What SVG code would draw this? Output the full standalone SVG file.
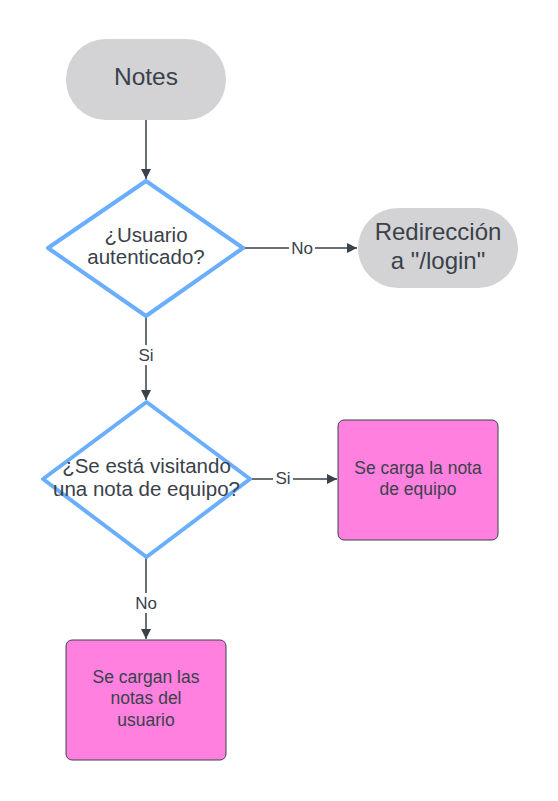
<svg xmlns="http://www.w3.org/2000/svg" width="558" height="801" viewBox="0 0 558 801">
<defs>
<marker id="arr" markerWidth="10" markerHeight="10" refX="10" refY="5" orient="auto" markerUnits="userSpaceOnUse" viewBox="0 0 10 10">
<path d="M0,0 L10,5 L0,10 Z" fill="#3a414a"/>
</marker>
<style>
.t{font-family:"Liberation Sans",Arial,sans-serif;fill:#3a414a;text-anchor:middle}
.pill{fill:#d3d3d5;stroke:none}
.dia{fill:#ffffff;stroke:#6aaeff;stroke-width:4;stroke-linejoin:round}
.box{fill:#ff80df;stroke:#3a414a;stroke-width:1}
.c{stroke:#3a414a;stroke-width:1.5;fill:none}
.lbl{font-family:"Liberation Sans",Arial,sans-serif;fill:#3a414a;text-anchor:middle;font-size:17px}
.lb{fill:#ffffff}
</style>
</defs>
<rect width="558" height="801" fill="#ffffff"/>
<g id="connectors">
<line class="c" x1="243" y1="248" x2="357" y2="248" marker-end="url(#arr)"/>
<line class="c" x1="146" y1="120" x2="146" y2="179" marker-end="url(#arr)"/>
<rect class="lb" x="289" y="238" width="26" height="20"/>
<text class="lbl" x="302" y="254">No</text>
<line class="c" x1="146" y1="316" x2="146" y2="400" marker-end="url(#arr)"/>
<rect class="lb" x="136" y="345" width="20" height="20"/>
<text class="lbl" x="146" y="361">Si</text>
<line class="c" x1="250" y1="479" x2="337" y2="479" marker-end="url(#arr)"/>
<rect class="lb" x="273" y="469" width="20" height="20"/>
<text class="lbl" x="283" y="484">Si</text>
<line class="c" x1="146" y1="557" x2="146" y2="639" marker-end="url(#arr)"/>
<rect class="lb" x="133" y="593" width="26" height="20"/>
<text class="lbl" x="146" y="609">No</text>
</g>
<g id="notes">
<rect class="pill" x="66" y="39" width="160" height="81" rx="40" ry="40"/>
<text class="t" x="146" y="85" font-size="24.5">Notes</text>
</g>
<g id="auth">
<path class="dia" d="M146,181 L243,248 L146,316 L48,248 Z"/>
<text class="t" x="146" y="242" font-size="20.5">¿Usuario</text>
<text class="t" x="146" y="264" font-size="20.5">autenticado?</text>
</g>
<g id="redirect">
<rect class="pill" x="358" y="208" width="160" height="80" rx="40" ry="40"/>
<text class="t" x="438" y="240" font-size="24">Redirección</text>
<text class="t" x="438" y="269" font-size="24">a "/login"</text>
</g>
<g id="team">
<path class="dia" d="M146.5,402 L250,479 L146.5,557 L43,479 Z"/>
<text class="t" x="146.5" y="473" font-size="20.5">¿Se está visitando</text>
<text class="t" x="146.5" y="496" font-size="20.5">una nota de equipo?</text>
</g>
<g id="loadteam">
<rect class="box" x="338" y="420" width="160" height="120" rx="6" ry="6"/>
<text class="t" x="418" y="474" font-size="17.5">Se carga la nota</text>
<text class="t" x="418" y="495" font-size="17.5">de equipo</text>
</g>
<g id="loaduser">
<rect class="box" x="66" y="640" width="160" height="120" rx="6" ry="6"/>
<text class="t" x="146" y="683" font-size="17.5">Se cargan las</text>
<text class="t" x="146" y="704" font-size="17.5">notas del</text>
<text class="t" x="146" y="726" font-size="17.5">usuario</text>
</g>
</svg>
